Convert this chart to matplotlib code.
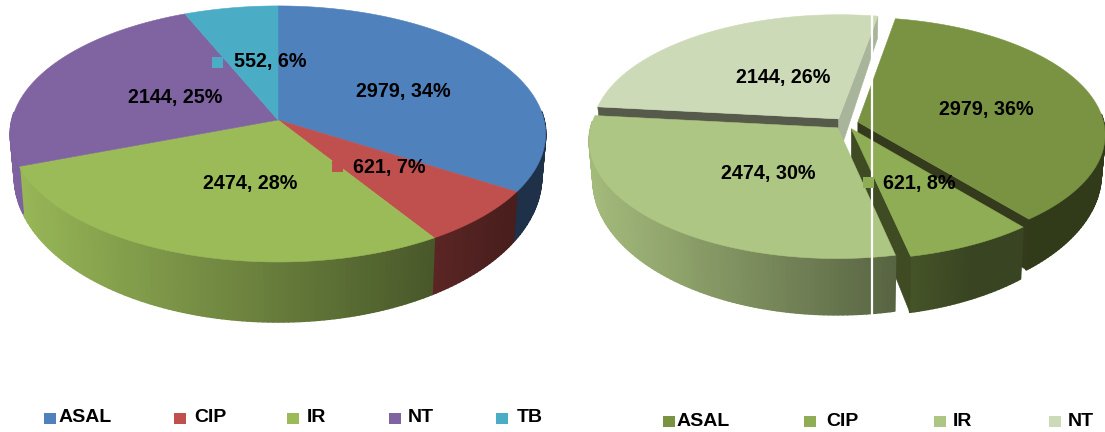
import numpy as np
import matplotlib
matplotlib.use("Agg")
import matplotlib.pyplot as plt
from matplotlib.collections import PolyCollection
from matplotlib.patches import Polygon, Rectangle

plt.rcParams['font.family'] = ['Liberation Sans', 'DejaVu Sans']

# ---- data ----
left_categories = ['ASAL', 'CIP', 'IR', 'NT', 'TB']
left_values = [2979, 621, 2474, 2144, 552]
left_percents = [34, 7, 28, 25, 6]
right_categories = ['ASAL', 'CIP', 'IR', 'NT']
right_values = [2979, 621, 2474, 2144]
right_percents = [36, 8, 30, 26]

# ---- styles and layout ----
left_colors = ['#4F81BD', '#C0504D', '#9BBB59', '#8064A2', '#4BACC6']
right_colors = ['#7A9342', '#8FAD54', '#AEC683', '#CDDAB7']
left_label_xy = [(403, 91), (389, 168), (250, 184), (175, 97), (270, 62)]
left_key_xy = [(340, 91), (337, 166), (183, 184), (110, 97), (217, 62)]
right_label_xy = [(986, 110), (919, 183), (768, 173), (783, 77)]
right_key_xy = [(925, 109), (868, 182), (704, 173), (725, 77)]
left_legend_sq = [44, 174, 287, 389, 496]
left_legend_tx = [59, 194, 307, 408, 517]
right_legend_sq = [663, 804, 934, 1049]
right_legend_tx = [677, 826, 953, 1068]

fig = plt.figure(figsize=(11.05, 4.32), dpi=100)
ax = fig.add_axes([0, 0, 1, 1])
ax.set_xlim(0, 1105)
ax.set_ylim(432, 0)
ax.axis('off')


class Pie3D:
    def __init__(self, cx, cy, A, B, k, da, db, shrink, fa, fslope, fmin):
        self.cx, self.cy, self.A, self.B, self.k = cx, cy, A, B, k
        self.da, self.db, self.shrink = da, db, shrink
        self.fa, self.fslope, self.fmin = fa, fslope, fmin

    def top(self, theta, r=1.0, e=0.0, bis=0.0):
        X = r * np.sin(theta) + e * np.sin(bis)
        Y = r * np.cos(theta) + e * np.cos(bis)
        w = 1 + self.k * Y
        return self.cx + self.A * X / w, self.cy - self.B * Y / w

    def lower(self, x, y):
        return self.cx + (x - self.cx) * self.shrink, y + self.da + self.db * y

    def shade(self, x):
        return np.clip(self.fa + self.fslope * (x - self.cx), self.fmin, 1.0)


def draw_side(p, color, a0, a1, e, bis, z):
    t = np.linspace(a0, a1, max(int(np.degrees(a1 - a0)), 2) + 1)
    x, y = p.top(t, 1.0, e, bis)
    xb, yb = p.lower(x, y)
    rgb = np.array(matplotlib.colors.to_rgb(color))
    quads, cols = [], []
    for i in range(len(t) - 1):
        # only the front of the rim can be seen
        if np.cos(t[i]) > 0.05 and np.cos(t[i + 1]) > 0.05:
            continue
        quads.append([(x[i], y[i]), (x[i + 1], y[i + 1]), (xb[i + 1], yb[i + 1]), (xb[i], yb[i])])
        cols.append(tuple(rgb * p.shade((x[i] + x[i + 1]) / 2)))
    if quads:
        ax.add_collection(PolyCollection(quads, facecolors=cols, edgecolors=cols, linewidths=1.3, zorder=z))


def draw_face(p, a, e, bis, color, z):
    x0, y0 = p.top(0.0, 0.0, e, bis)
    x1, y1 = p.top(a, 1.0, e, bis)
    xb0, yb0 = p.lower(x0, y0)
    xb1, yb1 = p.lower(x1, y1)
    ax.add_patch(Polygon([(x0, y0), (x1, y1), (xb1, yb1), (xb0, yb0)], closed=True,
                         facecolor=color, edgecolor=color, linewidth=0.4, zorder=z))


def draw_top(p, color, a0, a1, e, bis, z):
    t = np.linspace(a0, a1, max(int(np.degrees(a1 - a0)), 2) + 1)
    x, y = p.top(t, 1.0, e, bis)
    x0, y0 = p.top(0.0, 0.0, e, bis)
    pts = [(x0, y0)] + list(zip(x, y))
    ax.add_patch(Polygon(pts, closed=True, facecolor=color, edgecolor=color, linewidth=0.4, zorder=z))


def angles(values, start_deg):
    v = np.asarray(values, float)
    edges = np.radians(start_deg) + 2 * np.pi * np.concatenate([[0], np.cumsum(v)]) / v.sum()
    return edges[:-1], edges[1:]


# ---- left pie ----
pl = Pie3D(278, 120, 266, 126.5, 0.109, 24, 0.137, 0.985, 0.66, -0.00122, 0.38)
a0s, a1s = angles(left_values, 0)
for i, c in enumerate(left_colors):
    draw_side(pl, c, a0s[i], a1s[i], 0, 0, 2)
for i, c in enumerate(left_colors):
    draw_top(pl, c, a0s[i], a1s[i], 0, 0, 3)

# ---- right pie (exploded), drawn back to front ----
pr = Pie3D(846, 123.5, 246, 116, 0.105, 20, 0.14, 0.985, 0.575, -0.00143, 0.40)
b0s, b1s = angles(right_values, 10)
expl = 0.05
bis = (b0s + b1s) / 2
# NT
draw_side(pr, right_colors[3], b0s[3], b1s[3], expl, bis[3], 2)
draw_face(pr, b0s[3], expl, bis[3], '#565A4A', 3)
draw_face(pr, b1s[3], expl, bis[3], '#A9B59B', 3)
draw_top(pr, right_colors[3], b0s[3], b1s[3], expl, bis[3], 4)
# ASAL
draw_side(pr, right_colors[0], b0s[0], b1s[0], expl, bis[0], 5)
draw_face(pr, b1s[0], expl, bis[0], '#343B1C', 6)
draw_top(pr, right_colors[0], b0s[0], b1s[0], expl, bis[0], 7)
# CIP
draw_side(pr, right_colors[1], b0s[1], b1s[1], expl, bis[1], 8)
draw_face(pr, b1s[1], expl, bis[1], '#3F4B23', 9)
draw_top(pr, right_colors[1], b0s[1], b1s[1], expl, bis[1], 10)
# IR
draw_side(pr, right_colors[2], b0s[2], b1s[2], expl, bis[2], 11)
draw_top(pr, right_colors[2], b0s[2], b1s[2], expl, bis[2], 12)

# white vertical seam running through the right pie
ax.plot([872, 872], [12, 316], color='white', lw=1.6, zorder=13, solid_capstyle='butt')

# ---- labels ----
LABEL = dict(fontsize=14.2, fontweight='bold', color='black', va='center', ha='center', zorder=21)


def draw_labels(vals, pcts, cols, lab_xy, key_xy):
    for v, pc, c, (lx, ly), (kx, ky) in zip(vals, pcts, cols, lab_xy, key_xy):
        ax.add_patch(Rectangle((kx - 5.5, ky - 5.5), 11, 11, facecolor=c, edgecolor='none', zorder=20))
        ax.text(lx, ly, f'{v}, {pc}%', **LABEL)


draw_labels(left_values, left_percents, left_colors, left_label_xy, left_key_xy)
draw_labels(right_values, right_percents, right_colors, right_label_xy, right_key_xy)


# ---- legends ----
def draw_legend(cats, cols, sq_x, tx_x, y):
    for cat, c, sx, tx in zip(cats, cols, sq_x, tx_x):
        ax.add_patch(Rectangle((sx, y - 5.5), 11.5, 11.5, facecolor=c, edgecolor='none'))
        ax.text(tx, y, cat, fontsize=14, fontweight='bold', color='black', va='center', ha='left')


draw_legend(left_categories, left_colors, left_legend_sq, left_legend_tx, 418)
draw_legend(right_categories, right_colors, right_legend_sq, right_legend_tx, 421)

fig.savefig('out.png', dpi=100, facecolor='white')
